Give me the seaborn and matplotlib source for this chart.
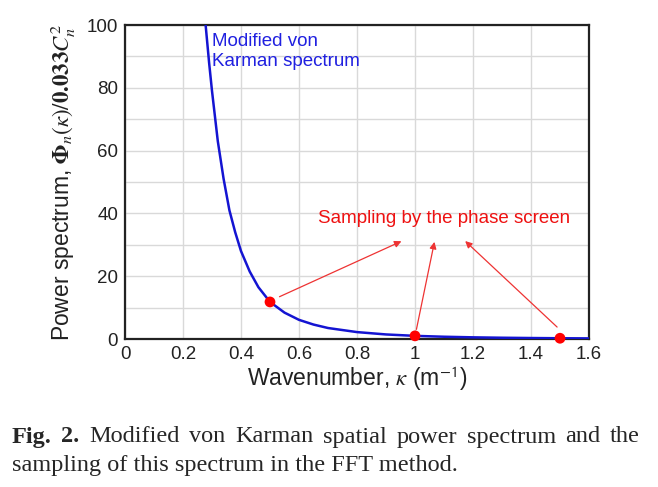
import matplotlib
matplotlib.use("Agg")
import matplotlib.pyplot as plt
import seaborn as sns
import pandas as pd

# Curve values
kappa = [0.278, 0.29, 0.30, 0.32, 0.34, 0.36, 0.38, 0.40, 0.43, 0.46, 0.50, 0.55,
         0.60, 0.65, 0.70, 0.80, 0.90, 1.00, 1.10, 1.20, 1.30, 1.40, 1.50, 1.60]
phi = [100, 88, 79, 63, 51, 41, 34, 28, 21.5, 16.5, 11.8, 8.4,
       6.1, 4.6, 3.5, 2.2, 1.45, 1.0, 0.72, 0.53, 0.40, 0.31, 0.24, 0.19]

# Sampling points
sample_kappa = [0.5, 1.0, 1.5]
sample_phi = [11.8, 1.0, 0.24]

x_ticks = [0, 0.2, 0.4, 0.6, 0.8, 1.0, 1.2, 1.4, 1.6]
x_tick_labels = ["0", "0.2", "0.4", "0.6", "0.8", "1", "1.2", "1.4", "1.6"]
y_ticks = [0, 20, 40, 60, 80, 100]

sns.set_theme(style="whitegrid")
plt.rcParams["font.family"] = ["Liberation Sans", "DejaVu Sans"]
plt.rcParams["mathtext.fontset"] = "stix"

df = pd.DataFrame({"kappa": kappa, "phi": phi})
sdf = pd.DataFrame({"kappa": sample_kappa, "phi": sample_phi})

fig = plt.figure(figsize=(6.58, 4.87), dpi=100)
ax = fig.add_axes([125 / 658, 1 - 339 / 487, 464 / 658, 314 / 487])
ax.set_facecolor("white")

sns.lineplot(data=df, x="kappa", y="phi", ax=ax, color="#1414d2", linewidth=1.8,
             zorder=3)
sns.scatterplot(data=sdf, x="kappa", y="phi", ax=ax, color="#ff0000", s=60,
                edgecolor="none", zorder=5, clip_on=False)

ax.set_xlim(0, 1.6)
ax.set_ylim(0, 100)
ax.set_xticks(x_ticks)
ax.set_xticklabels(x_tick_labels)
ax.set_yticks(y_ticks)
ax.set_yticks([10, 30, 50, 70, 90], minor=True)
ax.grid(True, which="major", color="#d9d9d9", linewidth=1.0)
ax.grid(True, which="minor", axis="y", color="#d9d9d9", linewidth=1.0)
ax.tick_params(axis="both", which="major", labelsize=13.5, length=0, pad=5,
               colors="#222222")
ax.tick_params(axis="both", which="minor", length=0)
for sp in ax.spines.values():
    sp.set_color("#222222")
    sp.set_linewidth(1.6)
    sp.set_visible(True)

ax.set_xlabel(r"Wavenumber, $\kappa$ (m$^{\mathsf{-1}}$)", fontsize=16.5, labelpad=1,
              color="#222222")
ax.set_ylabel(r"Power spectrum, $\mathbf{\Phi}_n(\kappa)/\mathbf{0.033}C_n^2$",
              fontsize=16.5, labelpad=6, color="#222222")

ax.text(0.30, 97.5, "Modified von\nKarman spectrum", color="#2020e0", fontsize=13.5,
        va="top", ha="left", linespacing=1.25)
ax.text(1.1, 38.3, "Sampling by the phase screen", color="#ee1111", fontsize=13.5,
        va="center", ha="center")

arrow_props = dict(arrowstyle="-|>", color="#ee3333", lw=0.9, mutation_scale=10)
heads = [(0.962, 31.5), (1.069, 31.8), (1.166, 31.8)]
tails = [(0.524, 13.1), (1.003, 2.2), (1.497, 3.2)]
for h, t in zip(heads, tails):
    ax.annotate("", xy=h, xytext=t, arrowprops=arrow_props)

# Caption, first line justified between x=12 and x=640 px
cap_size = 17.5
line1 = ["Fig.", "2.", "Modified", "von", "Karman", "spatial", "power",
         "spectrum", "and", "the"]
renderer = fig.canvas.get_renderer()
texts = []
for i, w in enumerate(line1):
    t = fig.text(0, 1 - 437 / 487, w, fontsize=cap_size, va="center", ha="left",
                 family="Liberation Serif", weight="bold" if i < 2 else "normal")
    texts.append(t)
widths = [t.get_window_extent(renderer).width for t in texts]
left, right = 12, 640
gap = (right - left - sum(widths)) / (len(widths) - 1)
xpos = left
for t, w in zip(texts, widths):
    t.set_x(xpos / 658)
    xpos += w + gap
fig.text(12 / 658, 1 - 466 / 487, "sampling of this spectrum in the FFT method.",
         fontsize=cap_size, va="center", ha="left", family="Liberation Serif")

fig.savefig("out.png", dpi=100, facecolor="white")
